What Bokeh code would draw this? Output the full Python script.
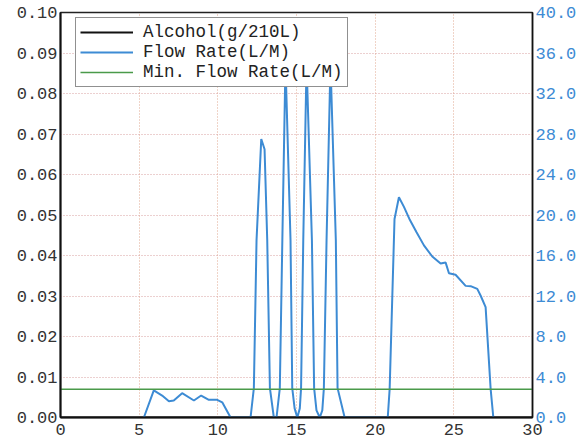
from bokeh.plotting import figure
from bokeh.models import Range1d, LinearAxis, FixedTicker, PrintfTickFormatter, Legend, LegendItem
from bokeh.embed import file_html
from bokeh.resources import INLINE

# ---- data ----
alcohol_t = [0.0, 30.0]
alcohol = [0.0, 0.0]  # g/210L

flow_t = [5.30, 5.93, 6.46, 6.89, 7.20, 7.73, 8.48, 8.94, 9.43, 9.96, 10.28, 10.81,
          12.08, 12.29, 12.46, 12.76, 12.97, 13.14, 13.31, 13.56,
          13.73, 13.94, 14.10, 14.30, 14.62, 14.73, 14.88, 15.05,
          15.21, 15.29, 15.43, 15.64, 15.98, 16.12, 16.27, 16.48,
          16.64, 16.74, 16.91, 17.16, 17.50, 17.61, 18.06,
          20.80, 20.92, 21.23, 21.51, 21.83, 22.21, 22.63, 23.10, 23.63, 24.16, 24.48,
          24.69, 25.11, 25.75, 26.07, 26.49, 26.70, 27.02, 27.34, 27.51]
flow = [0.0, 2.67, 2.17, 1.61, 1.68, 2.40, 1.68, 2.17, 1.75, 1.75, 1.50, 0.0,
        0.0, 2.9, 17.5, 27.5, 26.5, 17.5, 2.9, 0.0,
        0.0, 2.9, 17.5, 35.0, 17.5, 2.9, 0.9, 0.0,
        0.9, 2.9, 17.5, 35.0, 17.5, 2.9, 0.7, 0.0,
        0.7, 2.9, 17.5, 35.0, 17.5, 2.9, 0.0,
        0.0, 2.8, 19.6, 21.76, 20.8, 19.5, 18.3, 17.0, 15.9, 15.2, 15.3,
        14.25, 14.1, 13.0, 12.97, 12.7, 12.05, 10.9, 2.8, 0.0]

min_flow_t = [0.0, 30.0]
min_flow = [2.8, 2.8]  # L/M

x_ticks = [0, 5, 10, 15, 20, 25, 30]
left_ticks = [0.00, 0.01, 0.02, 0.03, 0.04, 0.05, 0.06, 0.07, 0.08, 0.09, 0.10]
right_ticks = [0, 4, 8, 12, 16, 20, 24, 28, 32, 36, 40]

FONT = "Liberation Mono"
BLUE = "#3d8bd4"
GRID = "#d8a0a0"
FS = "17px"

p = figure(width=583, height=439, output_backend="svg", toolbar_location=None,
           x_range=Range1d(0, 30), y_range=Range1d(0, 0.10),
           min_border_left=60, min_border_right=51, min_border_top=12, min_border_bottom=22)
p.extra_y_ranges = {"flow": Range1d(0, 40)}

p.outline_line_color = "#222222"
p.outline_line_width = 1.5
p.background_fill_color = "white"
p.border_fill_color = "white"

# axes
for ax in [p.xaxis[0], p.yaxis[0]]:
    ax.major_tick_out = 0
    ax.major_tick_in = 0
    ax.minor_tick_out = 0
    ax.minor_tick_in = 0
    ax.major_label_text_font = FONT
    ax.major_label_text_font_size = FS
    ax.major_label_text_color = "#333333"
    ax.axis_line_color = "#111111"
    ax.axis_line_width = 2
p.xaxis[0].ticker = FixedTicker(ticks=x_ticks)
p.xaxis[0].major_label_standoff = 6
p.yaxis[0].ticker = FixedTicker(ticks=left_ticks)
p.yaxis[0].formatter = PrintfTickFormatter(format="%.2f")
p.yaxis[0].major_label_standoff = 3

ry = LinearAxis(y_range_name="flow", ticker=FixedTicker(ticks=right_ticks),
                formatter=PrintfTickFormatter(format="%.1f"))
ry.major_tick_out = 0
ry.major_tick_in = 0
ry.minor_tick_out = 0
ry.minor_tick_in = 0
ry.major_label_text_font = FONT
ry.major_label_text_font_size = FS
ry.major_label_text_color = BLUE
ry.axis_line_color = "#111111"
ry.axis_line_width = 1.5
ry.major_label_standoff = 3
p.add_layout(ry, "right")

# grid
p.xgrid.ticker = FixedTicker(ticks=x_ticks)
p.ygrid.ticker = FixedTicker(ticks=left_ticks)
p.xgrid.grid_line_color = "#e0a890"
p.ygrid.grid_line_color = GRID
p.xgrid.grid_line_dash = "1 2"
p.ygrid.grid_line_dash = "1 2"
p.xgrid.grid_line_width = 1
p.ygrid.grid_line_width = 1

r_alc = p.line(alcohol_t, alcohol, line_color="#111111", line_width=2)
r_flow = p.line(flow_t, flow, line_color=BLUE, line_width=2, y_range_name="flow")
r_min = p.line(min_flow_t, min_flow, line_color="#4a9a4a", line_width=1.5, y_range_name="flow")

legend = Legend(items=[LegendItem(label="Alcohol(g/210L)", renderers=[r_alc]),
                       LegendItem(label="Flow Rate(L/M)", renderers=[r_flow]),
                       LegendItem(label="Min. Flow Rate(L/M)", renderers=[r_min])],
                location=(15, 330), label_text_font=FONT, label_text_font_size="17.5px",
                label_text_line_height=0.9,
                label_text_color="#222222", glyph_width=53, glyph_height=16, label_height=16,
                spacing=0, padding=4, label_standoff=10, border_line_color="#222222",
                border_line_width=1.5, background_fill_alpha=1.0, margin=0)
p.add_layout(legend, "center")

open("out.html", "w").write(file_html(p, INLINE))
